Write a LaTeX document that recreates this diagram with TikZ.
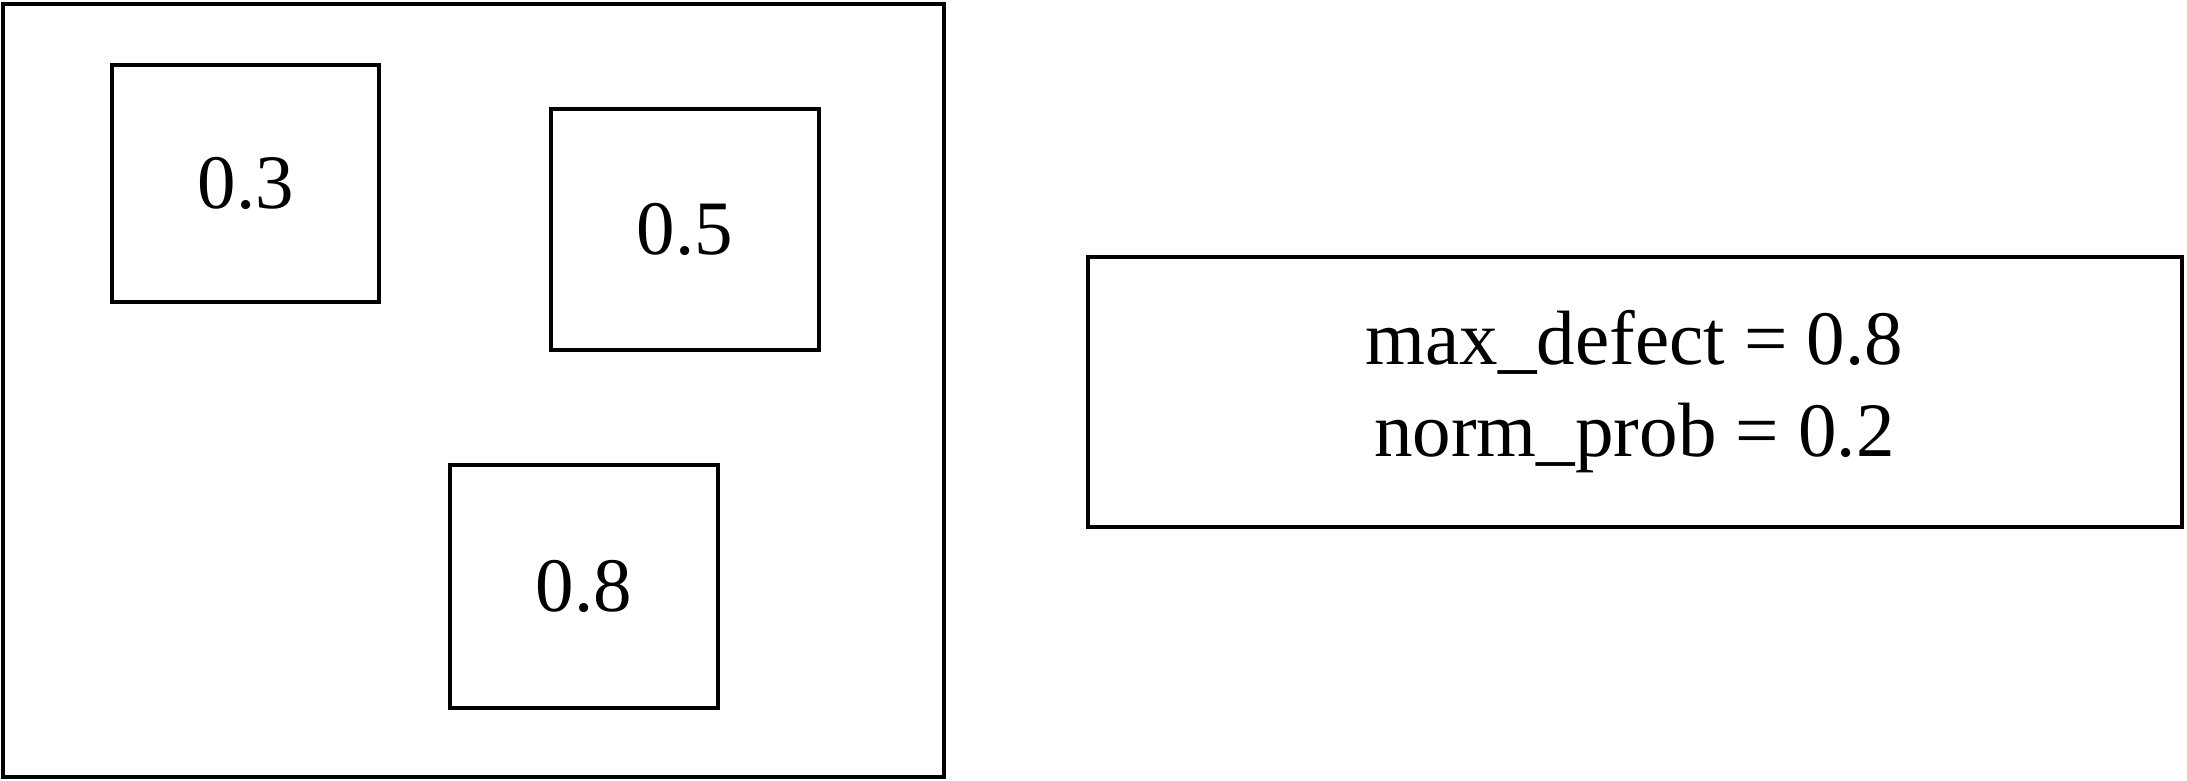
\documentclass[tikz,border=0pt]{standalone}
\usepackage{fontspec}
\setmainfont{Liberation Serif}
\begin{document}
\begin{tikzpicture}[x=1pt,y=-1pt,
  boxnode/.style={draw,line width=4pt,rectangle,inner sep=0pt,outer sep=0pt,
    font=\fontsize{77}{92}\selectfont,align=center}]
\useasboundingbox (0,0) rectangle (2187,781);
\node[boxnode,minimum width=941pt,minimum height=773pt] (outer) at (473.5,390.5) {};
\node[boxnode,minimum width=267pt,minimum height=236pt] (a) at (245.75,183.5) {0.3};
\node[boxnode,minimum width=268pt,minimum height=241pt] (b) at (685,229.5) {0.5};
\node[boxnode,minimum width=268pt,minimum height=243pt] (c) at (584,586) {0.8};
\node[boxnode,minimum width=1094pt,minimum height=270pt] (info) at (1634.5,392) {max\_defect = 0.8\\norm\_prob = 0.2};
\end{tikzpicture}
\end{document}
